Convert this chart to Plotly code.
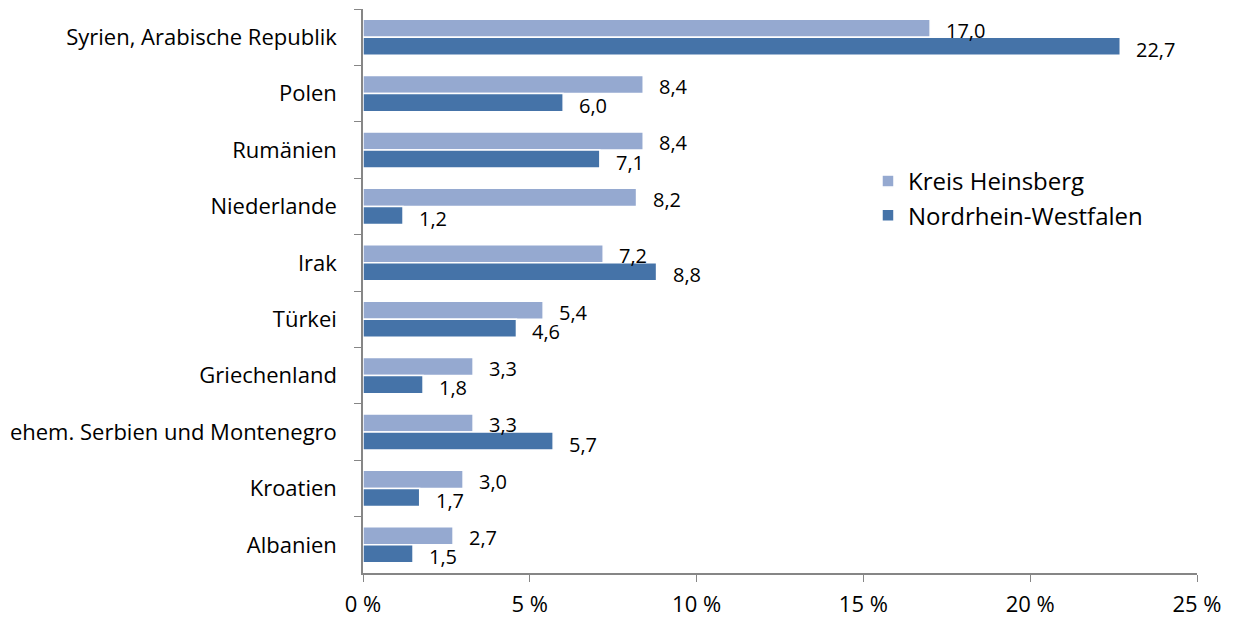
import plotly.graph_objects as go

categories = ["Syrien, Arabische Republik", "Polen", "Rumänien", "Niederlande", "Irak",
              "Türkei", "Griechenland", "ehem. Serbien und Montenegro", "Kroatien", "Albanien"]
heinsberg = [17.0, 8.4, 8.4, 8.2, 7.2, 5.4, 3.3, 3.3, 3.0, 2.7]
nrw = [22.7, 6.0, 7.1, 1.2, 8.8, 4.6, 1.8, 5.7, 1.7, 1.5]
tick_vals = [0, 5, 10, 15, 20, 25]
tick_text = ["0 %", "5 %", "10 %", "15 %", "20 %", "25 %"]

FONT = "Open Sans"
light = "#95A9D0"
dark = "#4573A8"

fig = go.Figure()
fig.add_trace(go.Bar(y=categories, x=heinsberg, orientation="h", name="Kreis Heinsberg",
                     marker=dict(color=light, line=dict(color="white", width=1.5))))
fig.add_trace(go.Bar(y=categories, x=nrw, orientation="h", name="Nordrhein-Westfalen",
                     marker=dict(color=dark, line=dict(color="white", width=1.5))))

annotations = []
for i, c in enumerate(categories):
    for vals, off, ysh in ((heinsberg, -0.16, 2), (nrw, 0.16, 3)):
        v = vals[i]
        annotations.append(dict(x=v, y=i + off, xref="x", yref="y",
                                text=f"{v:.1f}".replace(".", ","),
                                showarrow=False, xanchor="left", yanchor="middle",
                                xshift=14, yshift=-ysh,
                                font=dict(family=FONT, size=20, color="black")))

fig.update_layout(
    width=1226, height=611,
    margin=dict(l=355, r=37, t=1, b=46),
    paper_bgcolor="white", plot_bgcolor="white",
    barmode="group", bargap=0.36, bargroupgap=0.0,
    font=dict(family=FONT, size=22, color="black"),
    showlegend=True,
    legend=dict(x=0.6055, y=0.734, xanchor="left", yanchor="top",
                font=dict(family=FONT, size=24, color="black"),
                bgcolor="rgba(0,0,0,0)", itemwidth=30, tracegroupgap=0),
    annotations=annotations,
)
fig.update_xaxes(range=[0, 25], tickvals=tick_vals, ticktext=tick_text,
                 showgrid=False, zeroline=False, showline=True, linecolor="#868686",
                 linewidth=1.5, ticks="outside", ticklen=7, tickcolor="#868686",
                 ticklabelstandoff=4,
                 tickfont=dict(family=FONT, size=22, color="black"))
fig.update_yaxes(autorange="reversed", type="category", showgrid=False, showline=True,
                 linecolor="#868686", linewidth=1.5, ticks="outside", ticklen=7,
                 tickcolor="#868686", tickson="boundaries", ticklabelstandoff=20,
                 tickfont=dict(family=FONT, size=22, color="black"))

fig.write_html("out.html")
